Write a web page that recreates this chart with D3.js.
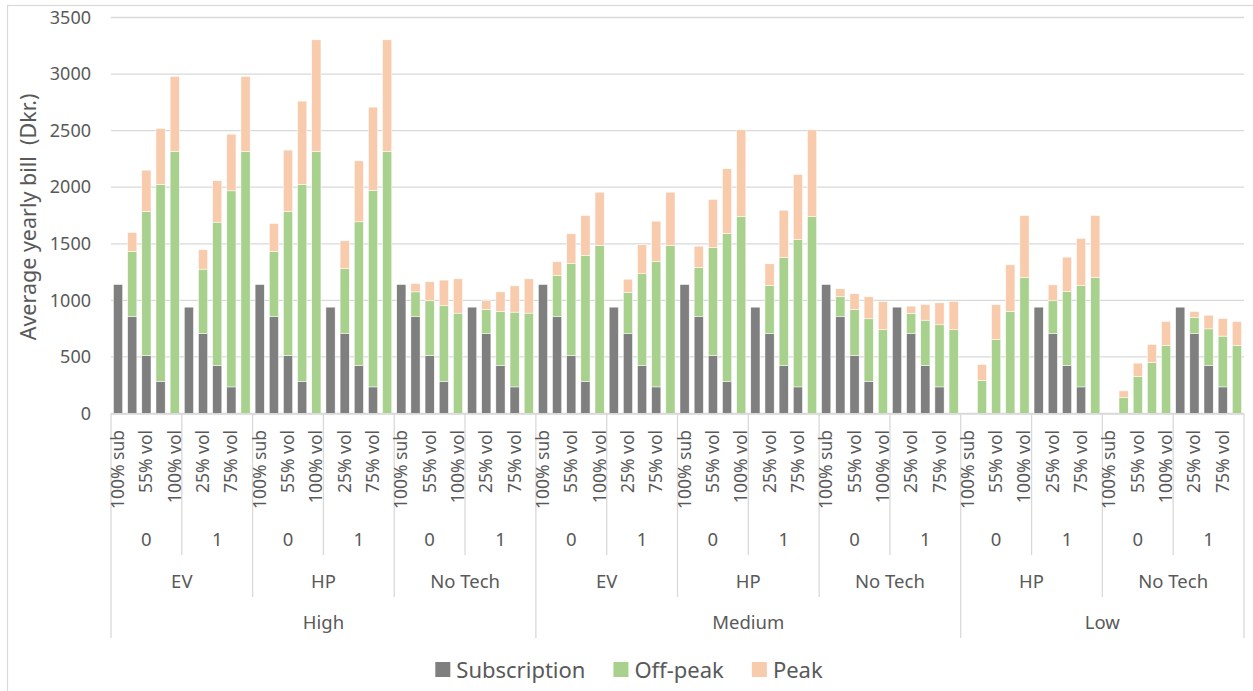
<!DOCTYPE html>
<html>
<head>
  <meta charset="utf-8">
  <title>Average yearly bill</title>
  <style>
    body { margin: 0; background: #fff; }
    text { font-family: 'Noto Sans', sans-serif; fill: #595959; }
  </style>
</head>
<body>
  <div id="chart"></div>
  <script src="https://d3js.org/d3.v7.min.js"></script>
  <script>
    // category levels (outer -> inner)
    let groups = [
      ['High', 'EV'], ['High', 'HP'], ['High', 'No Tech'],
      ['Medium', 'EV'], ['Medium', 'HP'], ['Medium', 'No Tech'],
      ['Low', 'HP'], ['Low', 'No Tech']
    ];
    let flags = ['0', '1'];
    let options = ['100% sub', '25% vol', '55% vol', '75% vol', '100% vol'];
    let yTicks = [0, 500, 1000, 1500, 2000, 2500, 3000, 3500];

    // series values, 80 bars in category order
    let subscription = [
      1140, 855, 513, 285, 0, 940, 705, 423, 235, 0,
      1140, 855, 513, 285, 0, 940, 705, 423, 235, 0,
      1140, 855, 513, 285, 0, 940, 705, 423, 235, 0,
      1140, 855, 513, 285, 0, 940, 705, 423, 235, 0,
      1140, 855, 513, 285, 0, 940, 705, 423, 235, 0,
      1140, 855, 513, 285, 0, 940, 705, 423, 235, 0,
      0, 0, 0, 0, 0, 940, 705, 423, 235, 0,
      0, 0, 0, 0, 0, 940, 705, 423, 235, 0
    ];
    let offPeak = [
      0, 577, 1272, 1739, 2316, 0, 571, 1268, 1733, 2316,
      0, 577, 1272, 1739, 2316, 0, 577, 1271, 1736, 2316,
      0, 220, 483, 667, 887, 0, 214, 479, 661, 887,
      0, 365, 813, 1112, 1485, 0, 365, 812, 1109, 1485,
      0, 435, 954, 1306, 1741, 0, 426, 956, 1303, 1741,
      0, 179, 406, 552, 740, 0, 179, 402, 549, 740,
      0, 292, 654, 902, 1202, 0, 291, 655, 896, 1202,
      0, 141, 327, 451, 601, 0, 144, 325, 449, 601
    ];
    let peak = [
      0, 168, 366, 495, 663, 0, 171, 366, 501, 663,
      0, 247, 543, 737, 987, 0, 244, 539, 737, 987,
      0, 74, 168, 227, 303, 0, 77, 173, 232, 303,
      0, 121, 262, 353, 471, 0, 117, 256, 356, 471,
      0, 189, 425, 572, 766, 0, 192, 418, 575, 766,
      0, 68, 139, 194, 250, 0, 65, 138, 194, 250,
      0, 141, 307, 412, 548, 0, 141, 304, 416, 548,
      0, 59, 118, 159, 212, 0, 53, 121, 156, 212
    ];

    let seriesNames = ['Subscription', 'Off-peak', 'Peak'];
    let colors = ['#7f7f7f', '#a9d18e', '#f8cbad'];

    let svgWidth = 1253;
    let svgHeight = 691;
    let plot = { left: 111, right: 1244, top: 17.5, bottom: 413.5 };

    function translate(x, y) {
      return 'translate(' + x + ',' + y + ')';
    }

    // build rows
    let rows = subscription.map((s, i) => ({
      idx: i,
      level: groups[Math.floor(i / 10)][0],
      tech: groups[Math.floor(i / 10)][1],
      flag: flags[Math.floor(i / 5) % 2],
      option: options[i % 5],
      'Subscription': s,
      'Off-peak': offPeak[i],
      'Peak': peak[i]
    }));

    let svg = d3.select('#chart').append('svg')
      .attr('width', svgWidth)
      .attr('height', svgHeight);

    // chart frame
    svg.append('rect')
      .attr('x', 7.5).attr('y', 5.5)
      .attr('width', svgWidth).attr('height', svgHeight)
      .style('fill', 'none').style('stroke', '#d9d9d9').style('stroke-width', 1.2);

    let x = d3.scaleBand()
      .domain(rows.map(d => d.idx))
      .range([plot.left, plot.right])
      .paddingInner(0.35)
      .paddingOuter(0.175);

    let y = d3.scaleLinear()
      .domain([0, 3500])
      .range([plot.bottom, plot.top]);

    // gridlines
    svg.append('g').selectAll('line')
      .data(yTicks)
      .enter().append('line')
      .attr('x1', plot.left).attr('x2', plot.right)
      .attr('y1', d => y(d)).attr('y2', d => y(d))
      .style('stroke', '#d9d9d9').style('stroke-width', 1.3);

    // y axis labels
    let yAxis = svg.append('g')
      .attr('transform', translate(plot.left - 20, 0))
      .call(d3.axisLeft(y).tickValues(yTicks).tickFormat(d3.format('d')).tickSize(0).tickPadding(0));
    yAxis.select('.domain').remove();
    yAxis.selectAll('text')
      .style('font-family', "'Noto Sans', sans-serif")
      .style('font-size', '18px')
      .style('fill', '#595959');

    svg.append('text')
      .attr('transform', translate(36, 217) + ' rotate(-90)')
      .attr('text-anchor', 'middle')
      .style('font-size', '21.5px')
      .style('white-space', 'pre')
      .text('Average yearly bill  (Dkr.)');

    // stacked bars
    let stacked = d3.stack().keys(seriesNames)(rows);
    svg.append('g').selectAll('g')
      .data(stacked)
      .enter().append('g')
      .style('fill', (d, i) => colors[i])
      .selectAll('rect')
      .data(d => d.filter(p => p[1] > p[0]))
      .enter().append('rect')
      .attr('x', d => x(d.data.idx))
      .attr('width', x.bandwidth())
      .attr('y', d => y(d[1]))
      .attr('height', d => y(d[0]) - y(d[1]))
      .style('stroke', '#fff')
      .style('stroke-width', 0.5);

    // category axis
    let step = x.step();
    let axisG = svg.append('g');
    axisG.append('line')
      .attr('x1', plot.left).attr('x2', plot.right)
      .attr('y1', plot.bottom + 0.5).attr('y2', plot.bottom + 0.5)
      .style('stroke', '#d9d9d9').style('stroke-width', 1.3);

    let rowBottom = [555, 597, 638];
    // boundaries every 5 bars
    let bounds = d3.range(0, rows.length + 1, 5);
    axisG.selectAll('.sep')
      .data(bounds)
      .enter().append('line')
      .attr('class', 'sep')
      .attr('x1', d => plot.left + d * step)
      .attr('x2', d => plot.left + d * step)
      .attr('y1', plot.bottom)
      .attr('y2', d => {
        if (d === 0 || d === rows.length) return rowBottom[2];
        let cur = rows[d], prev = rows[d - 1];
        if (cur.level !== prev.level) return rowBottom[2];
        if (cur.tech !== prev.tech) return rowBottom[1];
        return rowBottom[0];
      })
      .style('stroke', '#d9d9d9').style('stroke-width', 1.3);

    // innermost labels: every other category shown
    axisG.selectAll('.opt')
      .data(rows.filter(d => d.idx % 2 === 0))
      .enter().append('text')
      .attr('class', 'opt')
      .attr('transform', d => translate(x(d.idx) + x.bandwidth() / 2 + 6, 430) + ' rotate(-90)')
      .attr('text-anchor', 'end')
      .style('font-size', '17.5px')
      .text(d => d.option);

    // flag labels
    let flagGroups = d3.range(0, rows.length, 5);
    axisG.selectAll('.flag')
      .data(flagGroups)
      .enter().append('text')
      .attr('class', 'flag')
      .attr('x', d => plot.left + (d + 2.5) * step)
      .attr('y', 540)
      .attr('dy', '0.35em')
      .attr('text-anchor', 'middle')
      .style('font-size', '18.5px')
      .text(d => rows[d].flag);

    // tech labels
    axisG.selectAll('.tech')
      .data(groups)
      .enter().append('text')
      .attr('class', 'tech')
      .attr('x', (d, i) => plot.left + (i * 10 + 5) * step)
      .attr('y', 582)
      .attr('dy', '0.35em')
      .attr('text-anchor', 'middle')
      .style('font-size', '18.5px')
      .text(d => d[1]);

    // level labels
    let levelNames = Array.from(new Set(groups.map(g => g[0])));
    axisG.selectAll('.level')
      .data(levelNames)
      .enter().append('text')
      .attr('class', 'level')
      .attr('x', d => {
        let idx = rows.filter(r => r.level === d).map(r => r.idx);
        return plot.left + (d3.min(idx) + d3.max(idx) + 1) / 2 * step;
      })
      .attr('y', 623)
      .attr('dy', '0.35em')
      .attr('text-anchor', 'middle')
      .style('font-size', '18.5px')
      .text(d => d);

    // legend
    let legend = svg.append('g');
    let lx = 0;
    seriesNames.forEach(function (name, i) {
      let item = legend.append('g').attr('transform', translate(lx, 0));
      item.append('rect')
        .attr('x', 0).attr('y', -8)
        .attr('width', 15).attr('height', 15)
        .style('fill', colors[i]);
      let t = item.append('text')
        .attr('x', 21).attr('y', 0)
        .attr('dy', '0.35em')
        .style('font-size', '22px')
        .text(name);
      lx += 21 + t.node().getComputedTextLength() + 28;
    });
    lx -= 28;
    legend.attr('transform', translate(629 - lx / 2, 670));
  </script>
</body>
</html>
